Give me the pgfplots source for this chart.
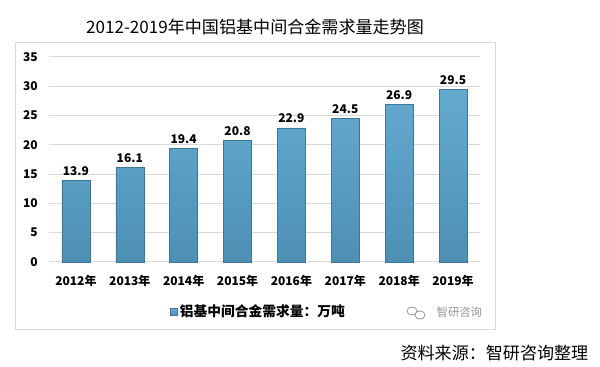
\documentclass[border=0pt]{standalone}
\usepackage{fontspec}
\setmainfont{Noto Sans CJK SC}
\usepackage{pgfplots}
\pgfplotsset{compat=1.18}
\definecolor{barA}{RGB}{100,170,208}
\definecolor{barB}{RGB}{78,144,180}
\definecolor{barE}{RGB}{62,118,148}
\definecolor{gridc}{RGB}{217,217,217}
\definecolor{wm}{RGB}{150,150,150}
\begin{document}
\begin{tikzpicture}[x=0.75pt,y=0.75pt]
\path (0,0) rectangle (600,367);
\draw[gridc, line width=0.75pt] (15,367-43) rectangle (495,367-330);
\node[font=\fontsize{12.8}{15}\selectfont] at (255,367-27) {2012-2019年中国铝基中间合金需求量走势图};
\node[anchor=east, font=\fontsize{12.8}{15}\selectfont] at (593,367-353) {资料来源：智研咨询整理};
\draw[wm, line width=0.6pt] (412,367-311) ellipse (5 and 4);
\draw[wm, line width=0.6pt, fill=white] (420,367-315) ellipse (5 and 4);
\node[anchor=west, text=wm, font=\fontsize{8.5}{10}\selectfont] at (432,367-312) {智研咨询};
\begin{axis}[
  at={(36.75pt,78.75pt)}, anchor=south west,
  scale only axis, width=323.25pt, height=153.75pt,
  xmin=-0.5, xmax=7.5, ymin=0, ymax=35,
  ytick={0,5,...,35},
  xtick=data,
  xticklabels={2012年,2013年,2014年,2015年,2016年,2017年,2018年,2019年},
  axis line style={draw=none},
  ymajorgrids, grid style={gridc, line width=0.75pt},
  major tick length=0pt,
  ticklabel style={font=\bfseries\fontsize{9}{10}\selectfont},
  /pgf/number format/assume math mode=true,
  yticklabel style={xshift=-5pt},
  xticklabel style={yshift=-6pt},
  nodes near coords,
  nodes near coords style={font=\bfseries\fontsize{9}{10}\selectfont, /pgf/number format/fixed, /pgf/number format/precision=1, /pgf/number format/fixed zerofill, /pgf/number format/assume math mode=true},
  legend style={at={(0.28,-0.244)}, anchor=west, draw=none, fill=none, font=\bfseries\fontsize{10.3}{12}\selectfont, inner sep=0pt},
  legend image code/.code={\fill[barB, draw=barE, line width=0.3pt] (0pt,-2.6pt) rectangle (5.2pt,2.6pt);},
  clip=false,
]
\addplot[ybar, bar width=21pt, top color=barA, bottom color=barB, draw=barE, line width=0.4pt]
  coordinates {(0,13.9) (1,16.1) (2,19.4) (3,20.8) (4,22.9) (5,24.5) (6,26.9) (7,29.5)};
\addlegendentry{铝基中间合金需求量：万吨}
\end{axis}
\end{tikzpicture}
\end{document}
